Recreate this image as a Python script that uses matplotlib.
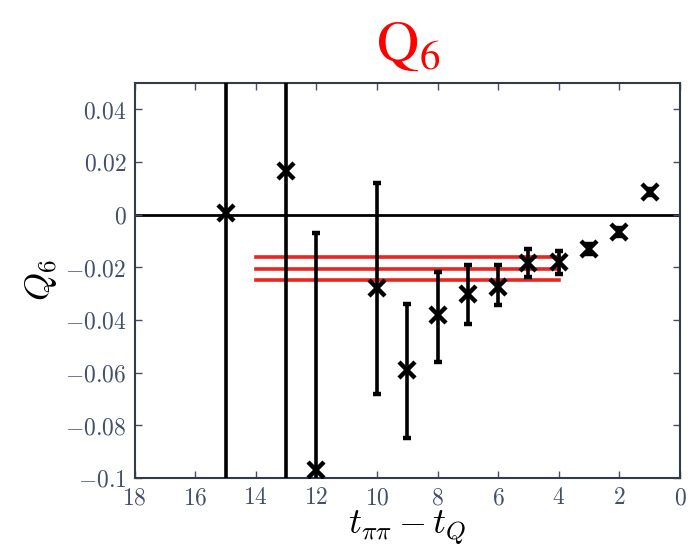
import numpy as np
import matplotlib
matplotlib.use("Agg")
import matplotlib.pyplot as plt

plt.rcParams["mathtext.fontset"] = "cm"
plt.rcParams["font.family"] = "DejaVu Serif"

# data: Q6 matrix element vs. time separation
t_sep = [15, 13, 12, 10, 9, 8, 7, 6, 5, 4, 3, 2, 1]
q6 = [0.0005, 0.0165, -0.097, -0.028, -0.059, -0.038, -0.030, -0.0275,
      -0.0185, -0.018, -0.013, -0.0065, 0.0085]
err_lo = [0.15, 0.15, 0.09, 0.040, 0.026, 0.018, 0.0115, 0.0068,
          0.0052, 0.0045, 0.002, 0.0015, 0.0012]
err_hi = [0.15, 0.15, 0.090, 0.040, 0.025, 0.016, 0.011, 0.0085,
          0.0055, 0.0043, 0.002, 0.0015, 0.0012]

# fit result (central value and band) over the fit window
fit_val = -0.0205
fit_err = 0.0045
fit_range = [14, 4]

xticks = [18, 16, 14, 12, 10, 8, 6, 4, 2, 0]
yticks = [-0.1, -0.08, -0.06, -0.04, -0.02, 0, 0.02, 0.04]

fig = plt.figure(figsize=(6.91, 5.53), dpi=100)
ax = fig.add_axes([0.195, 0.136, 0.789, 0.714])

ax.axhline(0, color="black", lw=2, zorder=1)

for v in [fit_val + fit_err, fit_val, fit_val - fit_err]:
    ax.plot(fit_range, [v, v], color="#e8251f", lw=2.6, zorder=3)

ax.errorbar(t_sep, q6, yerr=[err_lo, err_hi], fmt="x", color="black",
            ms=11, mew=3.2, elinewidth=2.6, capsize=3, capthick=2.6, zorder=4)

ax.set_xlim(18, 0)
ax.set_ylim(-0.1, 0.05)
ax.set_xticks(xticks)
ax.set_yticks(yticks)
ax.set_xticklabels([f"${v}$" for v in xticks])
ax.set_yticklabels(["$-0.1$", "$-0.08$", "$-0.06$", "$-0.04$", "$-0.02$",
                    "$0$", "$0.02$", "$0.04$"])

tick_col = "#44506a"
ax.tick_params(direction="in", top=True, right=True, length=5, width=1,
               color=tick_col, labelsize=17, labelcolor=tick_col, pad=6)
for s in ax.spines.values():
    s.set_linewidth(1.5)
    s.set_color("#333a48")

ax.set_xlabel(r"$t_{\pi\pi} - t_Q$", fontsize=26, labelpad=0)
ax.set_ylabel(r"$Q_6$", fontsize=26, labelpad=4)

fig.text(0.59, 0.918, r"$\mathrm{Q}_6$", color="red", fontsize=42,
         ha="center", va="center", math_fontfamily="stix")

fig.savefig("out.png", dpi=100)
